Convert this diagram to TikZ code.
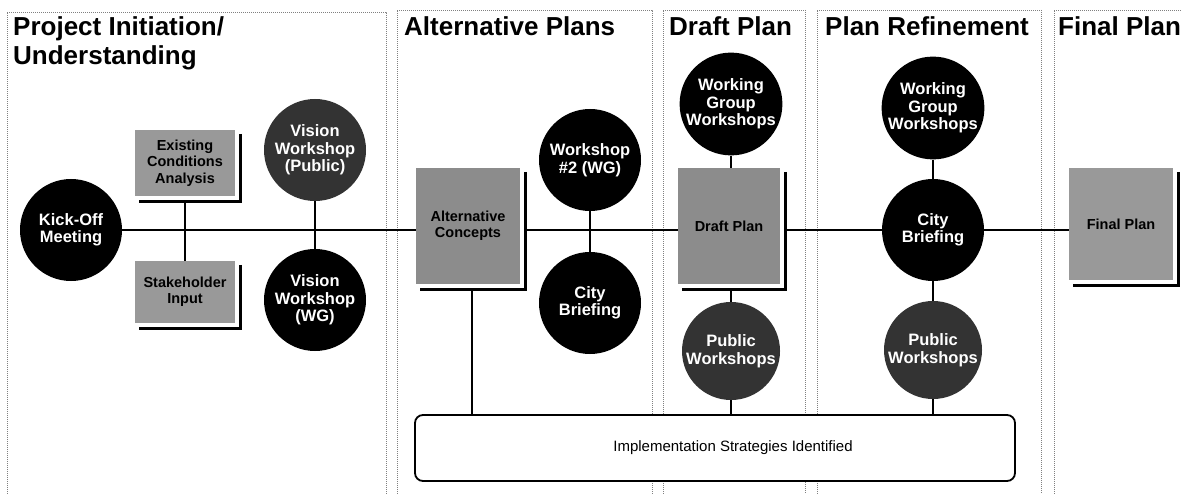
\documentclass[tikz,border=0pt]{standalone}
\usepackage{fontspec}
\setmainfont{Liberation Sans}
\usetikzlibrary{calc}
\newcommand\boxshadow[1]{\draw[shadowline] ($(#1.north east)+(5,4)$) -- ($(#1.south east)+(5,5)$) -- ($(#1.south west)+(4,5)$);}
\begin{document}
\begin{tikzpicture}[x=1pt,y=-1pt,
 panel/.style={draw=black!50, line width=0.6pt, dash pattern=on 1pt off 1pt},
 ttl/.style={anchor=base west, inner sep=0pt, font=\bfseries\fontsize{26}{28}\selectfont},
 dark/.style={circle, fill=black, minimum size=102pt, inner sep=0pt, align=center, text=white, font=\bfseries\fontsize{16.5}{17.5}\selectfont},
 pub/.style={dark, fill=black!80},
 gbox/.style={rectangle, fill=black!40, inner sep=0pt, align=center, font=\bfseries\fontsize{14.5}{16.5}\selectfont},
 conn/.style={line width=1.8pt},
 shadowline/.style={line width=3pt},
]
\useasboundingbox (0,0) rectangle (1182,494);
% panels
\draw[panel] (7,494) |- (386,12) -- (386,494);
\draw[panel] (397,494) |- (652,10) -- (652,494);
\draw[panel] (663,494) |- (805,10) -- (805,494);
\draw[panel] (817,494) |- (1041,10) -- (1041,494);
\draw[panel] (1054,494) |- (1182,10);
% titles
\node[ttl] (t1a) at (13,36) {Project Initiation/};
\node[ttl] (t1b) at (13,65) {Understanding};
\node[ttl] (t2) at (404,36) {Alternative Plans};
\node[ttl] (t3) at (669,36) {Draft Plan};
\node[ttl] (t4) at (825,36) {Plan Refinement};
\node[ttl] (t5) at (1058,36) {Final Plan};
% nodes
\node[dark] (kick) at (71,230) {Kick-Off\\Meeting};
\node[gbox, minimum width=100pt, minimum height=66pt] (ec) at (185,163) {Existing\\Conditions\\Analysis};
\node[gbox, minimum width=100pt, minimum height=62pt] (si) at (185,292) {Stakeholder\\Input};
\node[pub] (vp) at (315,150) {Vision\\Workshop\\(Public)};
\node[dark] (vwg) at (315,300) {Vision\\Workshop\\(WG)};
\node[gbox, fill=black!45, minimum width=104pt, minimum height=116pt] (alt) at (468,226) {Alternative\\Concepts};
\node[dark] (w2) at (590,160) {Workshop\\\#2 (WG)};
\node[dark] (cb1) at (590,303) {City\\Briefing};
\node[gbox, fill=black!45, minimum width=102pt, minimum height=116pt] (draft) at (729,226) {Draft Plan};
\node[dark] (wg1) at (731,104) {Working\\Group\\Workshops};
\node[pub, minimum size=98pt] (pw1) at (731,351) {Public\\Workshops};
\node[dark] (cb2) at (933,230) {City\\Briefing};
\node[dark] (wg2) at (933,108) {Working\\Group\\Workshops};
\node[pub, minimum size=98pt] (pw2) at (933,350) {Public\\Workshops};
\node[gbox, minimum width=104pt, minimum height=112pt] (final) at (1121,224) {Final Plan};
\node[draw, line width=1.8pt, rounded corners=8pt, fill=white, minimum width=600pt, minimum height=66pt] (impl) at (715,448) {};
\node[inner sep=0pt, font=\fontsize{15}{17}\selectfont] (impltext) at (733,448) {Implementation Strategies Identified};
% shadows
\boxshadow{ec}
\boxshadow{si}
\boxshadow{alt}
\boxshadow{draft}
\boxshadow{final}
% connectors
\draw[conn] (kick.east) -- (kick.east -| alt.west);
\draw[conn] ($(ec.south)+(0,5)$) -- (si.north);
\draw[conn] (vp.south) -- (vwg.north);
\draw[conn] ($(alt.east |- kick.east)+(5,0)$) -- (draft.west |- kick.east);
\draw[conn] (w2.south) -- (cb1.north);
\draw[conn] (wg1.south) -- (wg1.south |- draft.north);
\draw[conn] ($(pw1.north |- draft.south)+(0,5)$) -- (pw1.north);
\draw[conn] (pw1.south) -- (pw1.south |- impl.north);
\draw[conn] ($(alt.south)+(4,5)$) -- ($(alt.south |- impl.north)+(4,0)$);
\draw[conn] ($(draft.east |- kick.east)+(5,0)$) -- (cb2.west);
\draw[conn] (cb2.east) -- (cb2.east -| final.west);
\draw[conn] (wg2.south) -- (cb2.north);
\draw[conn] (cb2.south) -- (pw2.north);
\draw[conn] (pw2.south) -- (pw2.south |- impl.north);
\end{tikzpicture}
\end{document}
